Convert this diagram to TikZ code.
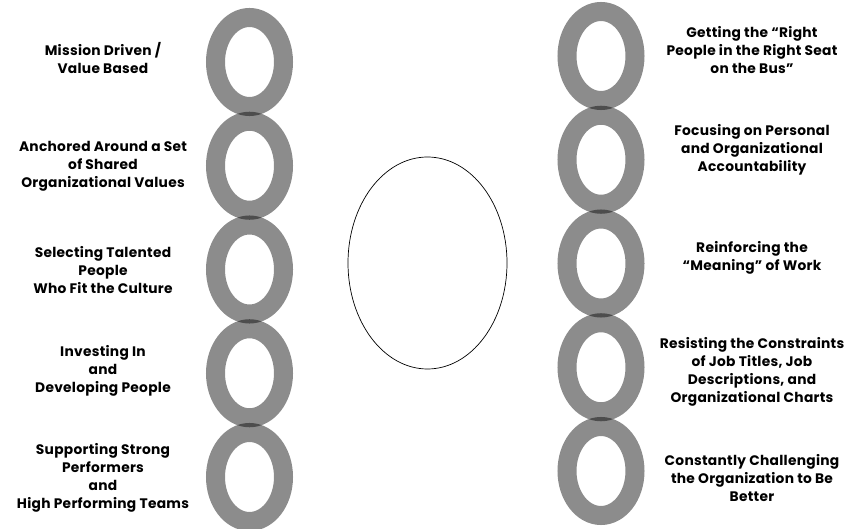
\documentclass[tikz,border=0pt]{standalone}
\usepackage{fontspec}
\setmainfont{Poppins}[LetterSpace=2]
\tikzset{
    link/.style={draw=black, draw opacity=0.45, line width=19pt},
    label/.style={align=center, inner sep=0pt, font=\fontsize{13.8}{18}\selectfont\bfseries},
}
\begin{document}
\begin{tikzpicture}[x=1pt, y=-1pt]
    \useasboundingbox (0,0) rectangle (849,529);

    % left chain
    \begin{scope}
        \draw[link] (249.5,62) ellipse [x radius=34pt, y radius=44.5pt];
        \draw[link] (249.5,165.75) ellipse [x radius=34pt, y radius=44.5pt];
        \draw[link] (249.5,269.5) ellipse [x radius=34pt, y radius=44.5pt];
        \draw[link] (249.5,373.25) ellipse [x radius=34pt, y radius=44.5pt];
        \draw[link] (249.5,477) ellipse [x radius=34pt, y radius=44.5pt];
        \node[label] (mission) at (103,58.5) {Mission Driven /\\Value Based};
        \node[label] (anchored) at (103,166) {Anchored Around a Set\\of Shared\\Organizational Values};
        \node[label] (selecting) at (103,270) {Selecting Talented\\People\\Who Fit the Culture};
        \node[label] (investing) at (103,370.5) {Investing In\\and\\Developing People};
        \node[label] (supporting) at (103,477.5) {Supporting Strong\\Performers\\and\\High Performing Teams};
    \end{scope}

    % centre
    \draw[line width=0.7pt] (427.5,263) ellipse [x radius=79.5pt, y radius=106pt];

    % right chain
    \begin{scope}
        \draw[link] (601,56) ellipse [x radius=34pt, y radius=44.5pt];
        \draw[link] (601,159.75) ellipse [x radius=34pt, y radius=44.5pt];
        \draw[link] (601,263.5) ellipse [x radius=34pt, y radius=44.5pt];
        \draw[link] (601,367.25) ellipse [x radius=34pt, y radius=44.5pt];
        \draw[link] (601,471) ellipse [x radius=34pt, y radius=44.5pt];
        \node[label] (rightseat) at (752,50) {Getting the “Right\\People in the Right Seat\\on the Bus”};
        \node[label] (accountability) at (752,150) {Focusing on Personal\\and Organizational\\Accountability};
        \node[label] (meaning) at (752,257.5) {Reinforcing the\\“Meaning” of Work};
        \node[label] (constraints) at (752,372) {Resisting the Constraints\\of Job Titles, Job\\Descriptions, and\\Organizational Charts};
        \node[label] (challenging) at (752,478) {Constantly Challenging\\the Organization to Be\\Better};
    \end{scope}
\end{tikzpicture}
\end{document}
